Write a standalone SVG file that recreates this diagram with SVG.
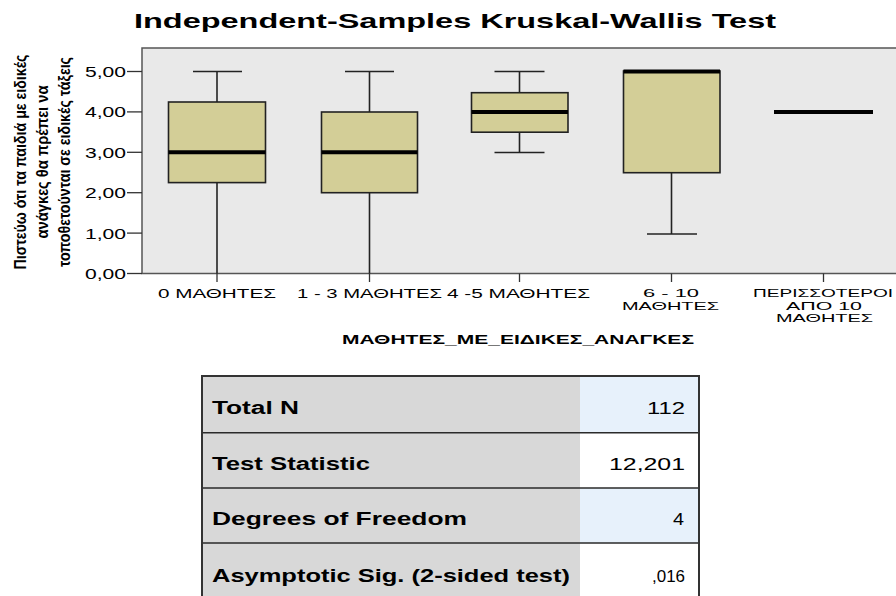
<svg xmlns="http://www.w3.org/2000/svg" width="896" height="596" viewBox="0 0 896 596">
<style>
.t{font-family:"Liberation Sans",Arial,sans-serif;fill:#000}
.b{font-weight:bold}
.box{fill:#d3ce97;stroke:#222;stroke-width:1.6}
.wh{stroke:#222;stroke-width:1.6;fill:none}
.med{stroke:#000;stroke-width:4}
.ax{stroke:#333;stroke-width:1.3}
.yl{font-family:"Liberation Sans",Arial,sans-serif;font-weight:bold;font-size:16px}
.tk{font-size:14px}
.cat{font-size:12.5px}
.cat2{font-size:11.5px}
.lab{font-size:18px}
.val{font-size:17px}
.grid{stroke:#2a2a2a;stroke-width:1.5}
</style>
<rect width="896" height="596" fill="#fff"/>
<text class="t b" x="134" y="28.3" font-size="21" textLength="642" lengthAdjust="spacingAndGlyphs">Independent-Samples Kruskal-Wallis Test</text>
<g id="plot">
<rect x="142" y="48" width="756" height="225.5" fill="#e9e9e9" stroke="#555" stroke-width="1.5"/>
</g>
<g id="yaxis">
<g class="ax">
<line x1="127" y1="71.5" x2="142" y2="71.5"/>
<line x1="127" y1="111.9" x2="142" y2="111.9"/>
<line x1="127" y1="152.3" x2="142" y2="152.3"/>
<line x1="127" y1="192.7" x2="142" y2="192.7"/>
<line x1="127" y1="233.1" x2="142" y2="233.1"/>
<line x1="127" y1="273.5" x2="142" y2="273.5"/>
</g>
<g class="t tk" text-anchor="end">
<text x="126" y="77" textLength="41" lengthAdjust="spacingAndGlyphs">5,00</text>
<text x="126" y="117.4" textLength="41" lengthAdjust="spacingAndGlyphs">4,00</text>
<text x="126" y="157.8" textLength="41" lengthAdjust="spacingAndGlyphs">3,00</text>
<text x="126" y="198.2" textLength="41" lengthAdjust="spacingAndGlyphs">2,00</text>
<text x="126" y="238.6" textLength="41" lengthAdjust="spacingAndGlyphs">1,00</text>
<text x="126" y="279" textLength="41" lengthAdjust="spacingAndGlyphs">0,00</text>
</g>
<g class="yl" text-anchor="middle">
<text transform="translate(26,162) rotate(-90)" textLength="215" lengthAdjust="spacingAndGlyphs">Πιστεύω ότι τα παιδιά με ειδικές</text>
<text transform="translate(48,162) rotate(-90)" textLength="153" lengthAdjust="spacingAndGlyphs">ανάγκες θα πρέπει να</text>
<text transform="translate(70,162) rotate(-90)" textLength="210" lengthAdjust="spacingAndGlyphs">τοποθετούνται σε ειδικές τάξεις</text>
</g>
</g>
<g id="xaxis">
<g class="ax">
<line x1="217" y1="273.5" x2="217" y2="282"/>
<line x1="369.5" y1="273.5" x2="369.5" y2="282"/>
<line x1="519.5" y1="273.5" x2="519.5" y2="282"/>
<line x1="671.5" y1="273.5" x2="671.5" y2="282"/>
<line x1="823.5" y1="273.5" x2="823.5" y2="282"/>
</g>
<g class="t cat">
<text x="158" y="298" textLength="118" lengthAdjust="spacingAndGlyphs">0 ΜΑΘΗΤΕΣ</text>
<text x="297" y="298" textLength="145" lengthAdjust="spacingAndGlyphs">1 - 3 ΜΑΘΗΤΕΣ</text>
<text x="447" y="298" textLength="143" lengthAdjust="spacingAndGlyphs">4 -5 ΜΑΘΗΤΕΣ</text>
</g>
<g class="t cat2">
<text x="643" y="297" textLength="56" lengthAdjust="spacingAndGlyphs">6 - 10</text>
<text x="622" y="309.5" textLength="97" lengthAdjust="spacingAndGlyphs">ΜΑΘΗΤΕΣ</text>
<text x="753" y="297" textLength="140" lengthAdjust="spacingAndGlyphs">ΠΕΡΙΣΣΟΤΕΡΟΙ</text>
<text x="786" y="309.5" textLength="76" lengthAdjust="spacingAndGlyphs">ΑΠΟ 10</text>
<text x="776" y="322" textLength="97" lengthAdjust="spacingAndGlyphs">ΜΑΘΗΤΕΣ</text>
</g>
<text class="t b" x="342" y="344" font-size="13" textLength="352" lengthAdjust="spacingAndGlyphs">ΜΑΘΗΤΕΣ_ΜΕ_ΕΙΔΙΚΕΣ_ΑΝΑΓΚΕΣ</text>
</g>
<g id="box1">
<line class="wh" x1="217" y1="71.5" x2="217" y2="273.5"/>
<line class="wh" x1="193" y1="71.5" x2="242" y2="71.5"/>
<rect class="box" x="168.5" y="102" width="97" height="80.6"/>
<line class="med" x1="168.5" y1="152.3" x2="265.5" y2="152.3"/>
</g>
<g id="box2">
<line class="wh" x1="369.5" y1="71.5" x2="369.5" y2="273.5"/>
<line class="wh" x1="345" y1="71.5" x2="394" y2="71.5"/>
<rect class="box" x="321.5" y="112" width="96" height="80.7"/>
<line class="med" x1="321.5" y1="152.3" x2="417.5" y2="152.3"/>
</g>
<g id="box3">
<line class="wh" x1="519.5" y1="71.5" x2="519.5" y2="152.5"/>
<line class="wh" x1="494.5" y1="71.5" x2="544.5" y2="71.5"/>
<line class="wh" x1="494.5" y1="152.5" x2="544.5" y2="152.5"/>
<rect class="box" x="471.5" y="92.7" width="96.5" height="39.5"/>
<line class="med" x1="471.5" y1="112" x2="568" y2="112"/>
</g>
<g id="box4">
<line class="wh" x1="671.5" y1="172.7" x2="671.5" y2="234"/>
<line class="wh" x1="647" y1="234" x2="697" y2="234"/>
<rect class="box" x="623.5" y="71" width="96.5" height="101.7"/>
<line class="med" x1="623.5" y1="71.5" x2="720" y2="71.5"/>
</g>
<g id="box5">
<line class="med" x1="774" y1="112" x2="873" y2="112"/>
</g>
<g id="table">
<rect x="202" y="376" width="378" height="240" fill="#d8d8d8"/>
<rect x="580" y="376" width="119" height="57" fill="#e7f1fb"/>
<rect x="580" y="433" width="119" height="55" fill="#fff"/>
<rect x="580" y="488" width="119" height="55" fill="#e7f1fb"/>
<rect x="580" y="543" width="119" height="73" fill="#fff"/>
<g class="grid">
<line x1="202" y1="432.7" x2="699" y2="432.7"/>
<line x1="202" y1="488" x2="699" y2="488"/>
<line x1="202" y1="543" x2="699" y2="543"/>
</g>
<path d="M202 600 V376 H699 V600" fill="none" stroke="#333" stroke-width="2"/>
<g class="t b lab">
<text x="212" y="414" textLength="87" lengthAdjust="spacingAndGlyphs">Total N</text>
<text x="212" y="469.5" textLength="158" lengthAdjust="spacingAndGlyphs">Test Statistic</text>
<text x="212" y="525" textLength="255" lengthAdjust="spacingAndGlyphs">Degrees of Freedom</text>
<text x="212" y="582" textLength="358" lengthAdjust="spacingAndGlyphs">Asymptotic Sig. (2-sided test)</text>
</g>
<g class="t val" text-anchor="end">
<text x="685" y="414" textLength="38" lengthAdjust="spacingAndGlyphs">112</text>
<text x="685" y="469.5" textLength="76" lengthAdjust="spacingAndGlyphs">12,201</text>
<text x="684" y="525" textLength="11" lengthAdjust="spacingAndGlyphs">4</text>
<text x="685" y="582" textLength="33" lengthAdjust="spacingAndGlyphs">,016</text>
</g>
</g>
</svg>
